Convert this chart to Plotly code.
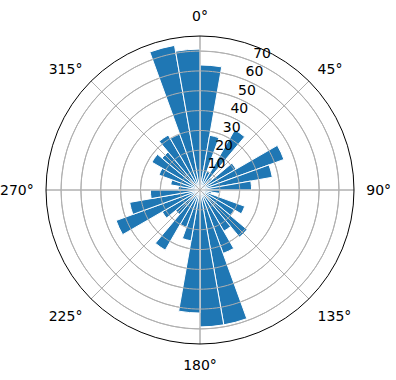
import plotly.graph_objects as go

# 10-degree direction bins, clockwise from North (bin centres)
directions = [5 + 10 * i for i in range(36)]
counts = [63, 28, 10, 35, 8, 21, 45, 37, 26,
          10, 6, 24, 20, 31, 24, 34, 69, 69,
          62, 26, 20, 35, 16, 22, 45, 36, 25,
          11, 15, 22, 28, 25, 32, 30, 74, 71]
r_ticks = [10, 20, 30, 40, 50, 60, 70]
theta_ticks = [0, 45, 90, 135, 180, 225, 270, 315]
r_max = 77.6
r_label_angle = 22.5
grid_col = "#b0b0b0"

fig = go.Figure(go.Barpolar(
    r=counts, theta=directions, width=[10] * len(counts),
    marker=dict(color="#1f77b4", line=dict(color="white", width=1)),
    hoverinfo="r+theta",
))
# grid drawn above the bars (as in the original)
circle = list(range(0, 361, 2))
for rv in r_ticks:
    fig.add_trace(go.Scatterpolar(r=[rv] * len(circle), theta=circle, mode="lines",
                                  line=dict(color=grid_col, width=1), hoverinfo="skip"))
for tv in theta_ticks:
    fig.add_trace(go.Scatterpolar(r=[0, r_max], theta=[tv, tv], mode="lines",
                                  line=dict(color=grid_col, width=1), hoverinfo="skip"))
# radial tick labels
fig.add_trace(go.Scatterpolar(r=r_ticks, theta=[r_label_angle] * len(r_ticks), mode="text",
                              text=[str(t) for t in r_ticks], textposition="top right",
                              textfont=dict(family="DejaVu Sans", size=14, color="black"),
                              hoverinfo="skip", cliponaxis=False))

W, H = 396, 380
cx, cy, R = 200, 190, 154
fig.update_layout(
    width=W, height=H, margin=dict(l=0, r=0, t=0, b=0),
    paper_bgcolor="white", showlegend=False,
    font=dict(family="DejaVu Sans", size=14, color="black"),
    polar=dict(
        domain=dict(x=[(cx - R) / W, (cx + R) / W], y=[(H - cy - R) / H, (H - cy + R) / H]),
        bgcolor="white",
        bargap=0,
        radialaxis=dict(range=[0, r_max], tickvals=r_ticks, showline=False, ticks="",
                        showticklabels=False, gridcolor=grid_col, gridwidth=1),
        angularaxis=dict(rotation=90, direction="clockwise", tickvals=theta_ticks,
                         ticktext=[f"{t}°" for t in theta_ticks],
                         ticks="outside", ticklen=9, tickcolor="rgba(0,0,0,0)",
                         showline=True, linecolor="black", linewidth=1,
                         gridcolor=grid_col, gridwidth=1, tickfont=dict(size=14)),
    ),
)
fig.write_html("out.html")
